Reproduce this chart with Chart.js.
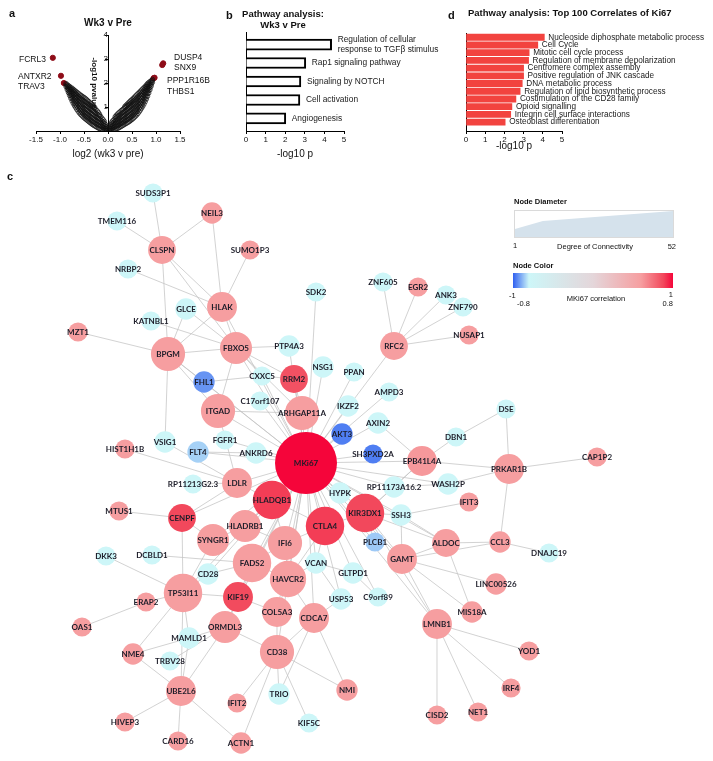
<!DOCTYPE html>
<html>
<head>
<meta charset="utf-8">
<script src="https://cdn.jsdelivr.net/npm/chart.js@4.4.1/dist/chart.umd.min.js"></script>
<style>
  body { margin: 0; background: #fff; font-family: "Liberation Sans", Arial, sans-serif; color: #111; }
  #page { position: relative; width: 713px; height: 761px; overflow: hidden; }
  .box { position: absolute; }
  .txt { position: absolute; white-space: nowrap; line-height: 1; }
</style>
</head>
<body>
<div id="page">
  <div class="box" style="left:0;top:0"><canvas id="volcano" width="200" height="160"></canvas></div>
  <div class="box" style="left:200px;top:0"><canvas id="wk3Bars" width="260" height="160"></canvas></div>
  <div class="box" style="left:445px;top:0"><canvas id="ki67Bars" width="268" height="152"></canvas></div>
  <div class="box" id="networkBox"><canvas id="network"></canvas></div>
  <div class="box" style="left:514px;top:210px;width:158px;height:26px;border:1px solid #dadada"><canvas id="sizeKey" width="158" height="26"></canvas></div>
  <div class="box" id="colorKey" style="left:513px;top:273px;width:160px;height:15px"></div>
</div>
<script>
// ---------- panel a : volcano (log2 fold change, -log10 p) ----------
// each entry: [log2 fold change, list of -log10 p values read along that column]
const volcanoLeftArm = [
  [-0.025, [0.01, 0.06, 0.12, 0.18]],
  [-0.05, [0.02, 0.1, 0.18, 0.27]],
  [-0.075, [0.03, 0.12, 0.22, 0.32, 0.4]],
  [-0.1, [0.04, 0.14, 0.25, 0.36, 0.47]],
  [-0.125, [0.06, 0.17, 0.29, 0.41, 0.53]],
  [-0.15, [0.08, 0.2, 0.32, 0.45, 0.6]],
  [-0.175, [0.1, 0.22, 0.35, 0.49, 0.63, 0.7]],
  [-0.2, [0.12, 0.25, 0.38, 0.52, 0.66, 0.78]],
  [-0.225, [0.15, 0.28, 0.42, 0.56, 0.7, 0.84]],
  [-0.25, [0.18, 0.3, 0.44, 0.58, 0.73, 0.88]],
  [-0.275, [0.21, 0.34, 0.48, 0.62, 0.77, 0.92, 0.98]],
  [-0.3, [0.24, 0.37, 0.51, 0.66, 0.81, 0.95, 1.04]],
  [-0.325, [0.27, 0.4, 0.55, 0.7, 0.85, 1.0, 1.09]],
  [-0.35, [0.31, 0.44, 0.58, 0.73, 0.88, 1.03, 1.14]],
  [-0.375, [0.35, 0.48, 0.62, 0.77, 0.92, 1.07, 1.18]],
  [-0.4, [0.39, 0.52, 0.66, 0.81, 0.96, 1.1, 1.23]],
  [-0.425, [0.43, 0.56, 0.7, 0.85, 1.0, 1.14, 1.27]],
  [-0.45, [0.47, 0.6, 0.74, 0.89, 1.03, 1.18, 1.32]],
  [-0.475, [0.51, 0.64, 0.78, 0.92, 1.07, 1.22, 1.36]],
  [-0.5, [0.55, 0.68, 0.82, 0.96, 1.1, 1.25, 1.4]],
  [-0.525, [0.6, 0.73, 0.87, 1.0, 1.14, 1.29, 1.43]],
  [-0.55, [0.65, 0.78, 0.92, 1.05, 1.19, 1.33, 1.47]],
  [-0.575, [0.7, 0.84, 0.97, 1.1, 1.24, 1.37, 1.5]],
  [-0.6, [0.76, 0.9, 1.03, 1.16, 1.29, 1.42, 1.54]],
  [-0.625, [0.83, 0.96, 1.09, 1.22, 1.34, 1.46, 1.58]],
  [-0.65, [0.9, 1.03, 1.15, 1.28, 1.4, 1.51, 1.62]],
  [-0.675, [0.98, 1.1, 1.22, 1.34, 1.45, 1.56, 1.66]],
  [-0.7, [1.06, 1.18, 1.3, 1.41, 1.52, 1.62, 1.7]],
  [-0.725, [1.15, 1.27, 1.38, 1.48, 1.58, 1.67, 1.74]],
  [-0.75, [1.25, 1.36, 1.46, 1.56, 1.65, 1.73, 1.79]],
  [-0.775, [1.36, 1.46, 1.55, 1.64, 1.72, 1.8]],
  [-0.8, [1.48, 1.57, 1.65, 1.73, 1.8, 1.86]],
  [-0.825, [1.6, 1.68, 1.76, 1.83, 1.89]],
  [-0.85, [1.72, 1.8, 1.87, 1.93]],
  [-0.875, [1.85, 1.92, 1.98]]
];
const volcanoRightArm = [
  [0.025, [0.01, 0.05, 0.11, 0.16]],
  [0.05, [0.02, 0.09, 0.17, 0.25]],
  [0.075, [0.03, 0.11, 0.2, 0.29, 0.37]],
  [0.1, [0.04, 0.13, 0.23, 0.33, 0.43]],
  [0.125, [0.05, 0.15, 0.26, 0.37, 0.48]],
  [0.15, [0.07, 0.18, 0.29, 0.41, 0.53, 0.6]],
  [0.175, [0.09, 0.2, 0.32, 0.44, 0.56, 0.66]],
  [0.2, [0.11, 0.23, 0.35, 0.47, 0.6, 0.71]],
  [0.225, [0.13, 0.25, 0.38, 0.51, 0.64, 0.76]],
  [0.25, [0.16, 0.28, 0.41, 0.54, 0.67, 0.8]],
  [0.275, [0.19, 0.31, 0.44, 0.57, 0.71, 0.85]],
  [0.3, [0.22, 0.34, 0.47, 0.61, 0.75, 0.89]],
  [0.325, [0.25, 0.37, 0.5, 0.64, 0.78, 0.93]],
  [0.35, [0.28, 0.41, 0.54, 0.68, 0.82, 0.97, 1.02]],
  [0.375, [0.31, 0.44, 0.57, 0.71, 0.86, 1.0, 1.07]],
  [0.4, [0.34, 0.47, 0.61, 0.75, 0.9, 1.04, 1.12]],
  [0.425, [0.37, 0.5, 0.64, 0.79, 0.94, 1.08, 1.17]],
  [0.45, [0.4, 0.54, 0.68, 0.83, 0.98, 1.12, 1.22]],
  [0.475, [0.44, 0.58, 0.72, 0.87, 1.02, 1.16, 1.27]],
  [0.5, [0.48, 0.62, 0.76, 0.91, 1.06, 1.2, 1.31]],
  [0.525, [0.52, 0.66, 0.8, 0.95, 1.1, 1.24, 1.36]],
  [0.55, [0.57, 0.71, 0.85, 1.0, 1.14, 1.28, 1.41]],
  [0.575, [0.62, 0.76, 0.9, 1.04, 1.18, 1.32, 1.46]],
  [0.6, [0.67, 0.81, 0.95, 1.09, 1.23, 1.37, 1.51]],
  [0.625, [0.73, 0.87, 1.01, 1.15, 1.28, 1.42, 1.56]],
  [0.65, [0.8, 0.94, 1.07, 1.2, 1.34, 1.47, 1.61]],
  [0.675, [0.87, 1.0, 1.14, 1.27, 1.4, 1.53, 1.66]],
  [0.7, [0.95, 1.08, 1.21, 1.34, 1.46, 1.58, 1.71]],
  [0.725, [1.03, 1.16, 1.28, 1.41, 1.53, 1.64, 1.76]],
  [0.75, [1.12, 1.25, 1.37, 1.49, 1.6, 1.71, 1.81]],
  [0.775, [1.22, 1.34, 1.46, 1.57, 1.68, 1.78, 1.86]],
  [0.8, [1.33, 1.44, 1.55, 1.66, 1.76, 1.85, 1.92]],
  [0.825, [1.45, 1.56, 1.66, 1.75, 1.84, 1.92, 1.98]],
  [0.85, [1.58, 1.68, 1.77, 1.86, 1.94, 2.02]],
  [0.875, [1.72, 1.81, 1.9, 1.98, 2.06]],
  [0.9, [1.87, 1.95, 2.03, 2.1]],
  [0.925, [2.02, 2.09, 2.15]]
];
const hitGenes = ['FCRL3', 'ANTXR2', 'TRAV3', 'DUSP4', 'SNX9', 'PPP1R16B', 'THBS1'];
const hitLog2FC = [-1.15, -0.98, -0.92, 1.15, 1.13, 0.97, 0.95];
const hitNegLog10P = [3.05, 2.3, 2.0, 2.82, 2.75, 2.22, 2.2];

// ---------- panel b : pathways wk3 v pre ----------
const wk3Pathways = ['Regulation of cellular|response to TGFβ stimulus', 'Rap1 signaling pathway', 'Signaling by NOTCH', 'Cell activation', 'Angiogenesis'];
const wk3NegLog10P = [4.37, 3.05, 2.8, 2.75, 2.03];

// ---------- panel d : pathways of top 100 Ki67 correlates ----------
const ki67Pathways = ['Nucleoside diphosphate metabolic process', 'Cell Cycle', 'Mitotic cell cycle process',
  'Regulation of membrane depolarization', 'Centromere complex assembly', 'Positive regulation of JNK cascade',
  'DNA metabolic process', 'Regulation of lipid biosynthetic process', 'Costimulation of the CD28 family',
  'Opioid signalling', 'Integrin cell surface interactions', 'Osteoblast differentiation'];
const ki67NegLog10P = [4.08, 3.74, 3.29, 3.26, 3.0, 3.0, 2.93, 2.82, 2.6, 2.39, 2.33, 2.04];

// ---------- panel c : correlation network ----------
const nodeNames = ['SUDS3P1','TMEM116','NEIL3','CLSPN','SUMO1P3','NRBP2','HLAK','SDK2','GLCE','KATNBL1',
  'MZT1','BPGM','FBXO5','PTP4A3','ZNF605','EGR2','ANK3','ZNF790','NUSAP1','RFC2',
  'FHL1','CXXC5','RRM2','NSG1','PPAN','AMPD3','ITGAD','C17orf107','ARHGAP11A','IKZF2',
  'AXIN2','AKT3','DSE','DBN1','VSIG1','HIST1H1B','FLT4','FGFR1','ANKRD6','MKi67',
  'SH3PXD2A','EPB41L4A','PRKAR1B','CAP1P2','RP11213G2.3','LDLR','HYPK','RP11173A16.2','WASH2P','HLADQB1',
  'IFIT3','MTUS1','KIR3DX1','SSH3','CENPF','CTLA4','HLADRB1','SYNGR1','IFI6','PLCB1',
  'ALDOC','CCL3','DNAJC19','DKK3','DCBLD1','GAMT','FADS2','VCAN','GLTPD1','CD28',
  'HAVCR2','LINC00526','TP53I11','KIF19','C9orf89','USP53','ERAP2','COL5A3','MIS18A','CDCA7',
  'LMNB1','OAS1','ORMDL3','MAMLD1','YOD1','CD38','NME4','TRBV28','IRF4','NMI',
  'UBE2L6','TRIO','IFIT2','NET1','CISD2','HIVEP3','KIF5C','CARD16','ACTN1'];
// layout coordinates of the published network
const nodeX = [153,117,212,162,250,128,222,316,186,151,
  78,168,236,289,383,418,446,463,469,394,
  204,262,294,323,354,389,218,260,302,348,
  378,342,506,456,165,125,198,225,256,306,
  373,422,509,597,193,237,340,394,448,272,
  469,119,365,401,182,325,245,213,285,375,
  446,500,549,106,152,402,252,316,353,208,
  288,496,183,238,378,341,146,277,472,314,
  437,82,225,189,529,277,133,170,511,347,
  181,279,237,478,437,125,309,178,241];
const nodeY = [193,221,213,250,250,269,307,292,309,321,
  332,354,348,346,282,287,295,307,335,346,
  382,376,379,367,372,392,411,401,413,406,
  423,434,409,437,442,449,452,440,453,463,
  454,461,469,457,484,483,493,487,484,500,
  502,511,513,515,518,526,526,540,543,542,
  543,542,553,556,555,559,563,563,573,574,
  579,584,593,597,597,599,602,612,612,618,
  624,627,627,638,651,652,654,661,688,690,
  691,694,703,712,715,722,723,741,743];
const nodeDegree = [1,1,2,5,1,1,6,1,2,1,
  1,8,7,2,1,1,1,1,1,5,
  2,1,5,2,1,1,8,1,8,2,
  2,2,1,1,2,1,2,1,2,52,
  1,6,6,1,1,6,2,2,2,10,
  1,1,10,2,5,10,7,7,8,1,
  5,2,1,1,1,6,10,2,2,2,
  9,2,10,6,1,2,1,6,2,6,
  6,1,7,2,1,8,2,1,1,2,
  6,2,1,1,1,1,1,1,2];
const nodeCorr = [-0.8,-0.8,0.6,0.6,0.6,-0.8,0.6,-0.8,-0.8,-0.8,
  0.6,0.6,0.6,-0.8,-0.8,0.6,-0.8,-0.8,0.6,0.6,
  -0.93,-0.8,0.85,-0.8,-0.8,-0.8,0.6,-0.8,0.6,-0.8,
  -0.8,-0.96,-0.8,-0.8,-0.8,0.6,-0.85,-0.8,-0.8,1.0,
  -0.96,0.62,0.6,0.6,-0.8,0.6,-0.8,-0.8,-0.8,0.9,
  0.6,0.6,0.88,-0.8,0.88,0.9,0.6,0.6,0.6,-0.86,
  0.6,0.6,-0.8,-0.8,-0.8,0.6,0.6,-0.8,-0.8,-0.8,
  0.6,0.6,0.6,0.87,-0.8,-0.8,0.6,0.6,0.6,0.6,
  0.6,0.6,0.6,-0.8,0.6,0.6,0.6,-0.8,0.6,0.6,
  0.6,-0.8,0.6,0.6,0.6,0.6,-0.8,0.6,0.6];
const networkEdges = [
  ['SUDS3P1','CLSPN'],['TMEM116','CLSPN'],['NEIL3','CLSPN'],['NEIL3','HLAK'],['SUMO1P3','HLAK'],['NRBP2','HLAK'],
  ['CLSPN','HLAK'],['CLSPN','BPGM'],['CLSPN','FBXO5'],['HLAK','BPGM'],['HLAK','FBXO5'],['GLCE','BPGM'],['GLCE','FBXO5'],
  ['KATNBL1','FBXO5'],['MZT1','BPGM'],['BPGM','FBXO5'],['BPGM','VSIG1'],['BPGM','ITGAD'],['BPGM','FHL1'],
  ['FBXO5','PTP4A3'],['FBXO5','ITGAD'],['FBXO5','CXXC5'],['FBXO5','RRM2'],['FBXO5','ARHGAP11A'],
  ['ZNF605','RFC2'],['EGR2','RFC2'],['ANK3','RFC2'],['ZNF790','RFC2'],['NUSAP1','RFC2'],
  ['FHL1','CXXC5'],['CXXC5','RRM2'],['RRM2','ARHGAP11A'],['ITGAD','ARHGAP11A'],['ITGAD','LDLR'],
  ['SDK2','MKi67'],['PTP4A3','MKi67'],['RFC2','MKi67'],['RRM2','MKi67'],['NSG1','MKi67'],['PPAN','MKi67'],
  ['IKZF2','MKi67'],['AMPD3','MKi67'],['AXIN2','MKi67'],['AKT3','MKi67'],['SH3PXD2A','MKi67'],['EPB41L4A','MKi67'],
  ['RP11173A16.2','MKi67'],['HYPK','MKi67'],['KIR3DX1','MKi67'],['CTLA4','MKi67'],['HLADQB1','MKi67'],['LDLR','MKi67'],
  ['ANKRD6','MKi67'],['FGFR1','MKi67'],['ITGAD','MKi67'],['C17orf107','MKi67'],['CXXC5','MKi67'],['FLT4','MKi67'],
  ['IFI6','MKi67'],['HLADRB1','MKi67'],['SYNGR1','MKi67'],['FADS2','MKi67'],['HAVCR2','MKi67'],['VCAN','MKi67'],
  ['USP53','MKi67'],['GLTPD1','MKi67'],['CDCA7','MKi67'],['COL5A3','MKi67'],['KIF19','MKi67'],['CENPF','MKi67'],
  ['CD38','MKi67'],['ORMDL3','MKi67'],['SSH3','MKi67'],['TP53I11','MKi67'],['FBXO5','MKi67'],['BPGM','MKi67'],
  ['GAMT','MKi67'],['ALDOC','MKi67'],['PLCB1','MKi67'],['LMNB1','MKi67'],['CD28','MKi67'],['WASH2P','MKi67'],
  ['C9orf89','MKi67'],['HLAK','MKi67'],['FHL1','MKi67'],['ARHGAP11A','MKi67'],
  ['HLADQB1','CTLA4'],['HLADQB1','LDLR'],['HLADQB1','HLADRB1'],['HLADQB1','IFI6'],['HLADRB1','SYNGR1'],['HLADRB1','IFI6'],
  ['IFI6','CTLA4'],['IFI6','HAVCR2'],['FADS2','HAVCR2'],['FADS2','KIF19'],['FADS2','IFI6'],['CTLA4','HAVCR2'],
  ['CTLA4','KIR3DX1'],['CTLA4','VCAN'],['HAVCR2','COL5A3'],['HAVCR2','CDCA7'],['COL5A3','CD38'],['COL5A3','KIF19'],
  ['KIF19','ORMDL3'],['ORMDL3','CD38'],['TP53I11','SYNGR1'],['TP53I11','KIF19'],['TP53I11','CD28'],['CENPF','SYNGR1'],
  ['CENPF','LDLR'],['CENPF','TP53I11'],['FLT4','ANKRD6'],['VSIG1','LDLR'],['RP11213G2.3','LDLR'],['HIST1H1B','LDLR'],
  ['MTUS1','CENPF'],['DKK3','TP53I11'],['DCBLD1','FADS2'],['CD28','FADS2'],['VCAN','USP53'],['VCAN','HAVCR2'],
  ['GLTPD1','VCAN'],['CDCA7','USP53'],['C9orf89','GLTPD1'],
  ['KIR3DX1','SSH3'],['KIR3DX1','RP11173A16.2'],['KIR3DX1','GAMT'],['KIR3DX1','ALDOC'],['KIR3DX1','LMNB1'],
  ['KIR3DX1','PLCB1'],['KIR3DX1','EPB41L4A'],['SSH3','IFIT3'],['SSH3','ALDOC'],['SSH3','GAMT'],
  ['RP11173A16.2','EPB41L4A'],['RP11173A16.2','WASH2P'],['EPB41L4A','AXIN2'],['EPB41L4A','DBN1'],['EPB41L4A','PRKAR1B'],
  ['DBN1','DSE'],['DSE','PRKAR1B'],['PRKAR1B','CAP1P2'],['PRKAR1B','WASH2P'],['PRKAR1B','CCL3'],
  ['ALDOC','CCL3'],['CCL3','DNAJC19'],['ALDOC','GAMT'],['ALDOC','MIS18A'],['GAMT','LINC00526'],['GAMT','MIS18A'],
  ['GAMT','LMNB1'],['GAMT','CCL3'],['LMNB1','YOD1'],['LMNB1','IRF4'],['LMNB1','NET1'],['LMNB1','CISD2'],
  ['CD38','TRIO'],['CD38','KIF5C'],['CD38','NMI'],['CD38','IFIT2'],['CD38','ACTN1'],['CD38','CDCA7'],
  ['CDCA7','NMI'],['CDCA7','TRIO'],['UBE2L6','ACTN1'],['UBE2L6','CARD16'],['UBE2L6','HIVEP3'],['UBE2L6','NME4'],
  ['UBE2L6','TP53I11'],['UBE2L6','ORMDL3'],['UBE2L6','MAMLD1'],['NME4','TP53I11'],['NME4','MAMLD1'],
  ['TRBV28','ORMDL3'],['MAMLD1','ORMDL3'],['MAMLD1','TP53I11'],['ERAP2','TP53I11'],['OAS1','ERAP2']
];

// legends of panel c
const keyDegree = [1, 10, 52];
const keyDiameter = [0.31, 0.62, 1.0];
const corrStops = [-1, -0.8, 0, 0.6, 0.88, 1];
const corrStopColors = [[48, 96, 240], [205, 246, 248], [228, 214, 218], [246, 158, 160], [242, 72, 92], [245, 5, 58]];

// ---------- helpers ----------
Chart.defaults.font.family = '"Liberation Sans", Arial, sans-serif';
Chart.defaults.color = '#111';
const page = document.getElementById('page');
const maxNodeRadius = 31;

function addText(text, x, y, size, bold, align) {
  const el = document.createElement('div');
  el.className = 'txt';
  el.textContent = text;
  el.style.left = x + 'px';
  el.style.top = y + 'px';
  el.style.fontSize = size + 'px';
  if (bold) el.style.fontWeight = 'bold';
  const tx = align === 'center' ? '-50%' : align === 'right' ? '-100%' : '0';
  el.style.transform = 'translate(' + tx + ',-50%)';
  page.appendChild(el);
}

function interp(xs, ys, v) {
  if (v <= xs[0]) return ys[0];
  for (let i = 1; i < xs.length; i++) {
    if (v <= xs[i]) {
      const t = (v - xs[i - 1]) / (xs[i] - xs[i - 1]);
      return ys[i - 1] + t * (ys[i] - ys[i - 1]);
    }
  }
  return ys[ys.length - 1];
}

function corrColor(c) {
  const rgb = [0, 1, 2].map(k => Math.round(interp(corrStops, corrStopColors.map(s => s[k]), c)));
  return 'rgb(' + rgb.join(',') + ')';
}

function nodeRadius(deg) {
  return maxNodeRadius * interp(keyDegree, keyDiameter, deg);
}

const axisGrid = { display: true, drawOnChartArea: false, drawTicks: true, tickLength: 3, color: '#000', tickColor: '#000' };
const noAnim = { responsive: false, animation: false, events: [] };

// ---------- panel a ----------
const cloud = [];
volcanoLeftArm.concat(volcanoRightArm).forEach(([fc, ps]) => {
  ps.forEach(p => cloud.push({ x: fc, y: p }));
});

new Chart(document.getElementById('volcano'), {
  type: 'scatter',
  data: {
    datasets: [
      { data: cloud, pointRadius: 2.2, pointBackgroundColor: 'rgba(0,0,0,0)', pointBorderColor: '#111', pointBorderWidth: 0.7 },
      { data: hitGenes.map((g, i) => ({ x: hitLog2FC[i], y: hitNegLog10P[i] })), pointRadius: 2.6,
        pointBackgroundColor: '#8e0c18', pointBorderColor: '#8e0c18' }
    ]
  },
  options: {
    ...noAnim,
    layout: { padding: { left: 36, right: 20, top: 35, bottom: 0 } },
    plugins: { legend: { display: false }, tooltip: { enabled: false } },
    scales: {
      x: {
        type: 'linear', min: -1.5, max: 1.5,
        ticks: { stepSize: 0.5, autoSkip: false, maxRotation: 0, padding: 1, font: { size: 8 }, callback: v => v.toFixed(1) },
        grid: axisGrid, border: { color: '#000', width: 1 },
        title: { display: true, text: 'log2 (wk3 v pre)', font: { size: 10 }, padding: 0 },
        afterFit: s => { s.height = 29; }
      },
      y: {
        type: 'linear', min: 0, max: 4, position: { x: 0 },
        ticks: { stepSize: 1, padding: 1, font: { size: 8 }, callback: v => (v === 0 ? '' : v) },
        grid: axisGrid, border: { color: '#000', width: 1 },
        title: { display: true, text: '-log10 pvalue', font: { size: 8, weight: 'bold' }, padding: 0 }
      }
    }
  }
});

// ---------- bar label plugin (b and d) ----------
function barLabels(labels, size, gap) {
  return {
    id: 'barLabels',
    afterDatasetsDraw(chart) {
      const ctx = chart.ctx;
      ctx.save();
      ctx.font = size + 'px "Liberation Sans", Arial, sans-serif';
      ctx.fillStyle = '#1a1a1a';
      ctx.textBaseline = 'middle';
      chart.getDatasetMeta(0).data.forEach((bar, i) => {
        const lines = labels[i].split('|');
        lines.forEach((ln, k) => {
          ctx.fillText(ln, bar.x + gap, bar.y + (k - (lines.length - 1) / 2) * (size + 1.5));
        });
      });
      ctx.restore();
    }
  };
}

function barOptions(pad, ymin, ymax, xHeight, titleSize) {
  return {
    ...noAnim,
    indexAxis: 'y',
    layout: { padding: pad },
    plugins: { legend: { display: false }, tooltip: { enabled: false } },
    scales: {
      x: {
        type: 'linear', min: 0, max: 5,
        ticks: { stepSize: 1, padding: 1, font: { size: 8 } },
        grid: axisGrid, border: { color: '#000', width: 1 },
        title: { display: true, text: '-log10 p', font: { size: titleSize }, padding: 0 },
        afterFit: s => { s.height = xHeight; }
      },
      y: {
        type: 'linear', min: ymin, max: ymax, reverse: true, offset: false, bounds: 'data',
        ticks: { display: false }, grid: { display: false, offset: false },
        border: { display: true, color: '#000', width: 1 },
        afterFit: s => { s.width = 0; }
      }
    }
  };
}

// ---------- panel b ----------
new Chart(document.getElementById('wk3Bars'), {
  type: 'bar',
  data: {
    datasets: [{
      data: wk3NegLog10P.map((v, i) => ({ x: v, y: i })),
      backgroundColor: '#fff', borderColor: '#000', borderWidth: 2,
      barThickness: 11
    }]
  },
  options: barOptions({ left: 46, right: 116, top: 32, bottom: 0 }, -0.68, 4.68, 29, 10),
  plugins: [barLabels(wk3Pathways, 8.4, 6)]
});

// ---------- panel d ----------
new Chart(document.getElementById('ki67Bars'), {
  type: 'bar',
  data: {
    datasets: [{
      data: ki67NegLog10P.map((v, i) => ({ x: v, y: i })),
      backgroundColor: '#f2433f', borderWidth: 0,
      barThickness: 6.2
    }]
  },
  options: barOptions({ left: 21, right: 151, top: 33, bottom: 0 }, -0.55, 12.15, 21, 10),
  plugins: [barLabels(ki67Pathways, 8.2, 4)]
});

// ---------- panel c ----------
const edgePlugin = {
  id: 'edges',
  beforeDatasetsDraw(chart) {
    const { ctx, scales: { x, y } } = chart;
    ctx.save();
    ctx.strokeStyle = 'rgba(196,196,196,0.85)';
    ctx.lineWidth = 0.9;
    networkEdges.forEach(([a, b]) => {
      const i = nodeNames.indexOf(a), j = nodeNames.indexOf(b);
      if (i < 0 || j < 0) return;
      ctx.beginPath();
      ctx.moveTo(x.getPixelForValue(nodeX[i]), y.getPixelForValue(nodeY[i]));
      ctx.lineTo(x.getPixelForValue(nodeX[j]), y.getPixelForValue(nodeY[j]));
      ctx.stroke();
    });
    ctx.restore();
  }
};
const nodeLabelPlugin = {
  id: 'nodeLabels',
  afterDatasetsDraw(chart) {
    const { ctx, scales: { x, y } } = chart;
    ctx.save();
    ctx.font = '700 8px Lato, "Liberation Sans", sans-serif';
    ctx.fillStyle = '#1c1c28';
    ctx.textAlign = 'center';
    ctx.textBaseline = 'middle';
    nodeNames.forEach((n, i) => ctx.fillText(n, x.getPixelForValue(nodeX[i]), y.getPixelForValue(nodeY[i])));
    ctx.restore();
  }
};

// bubble charts keep the largest radius free on every side of the plot area,
// so the canvas is grown by that margin to keep the layout area at 0..713 x 160..761
const netCanvas = document.getElementById('network');
const netBox = document.getElementById('networkBox');
netCanvas.width = 713 + 2 * maxNodeRadius;
netCanvas.height = 601 + 2 * maxNodeRadius;
netBox.style.left = (-maxNodeRadius) + 'px';
netBox.style.top = (160 - maxNodeRadius) + 'px';

new Chart(netCanvas, {
  type: 'bubble',
  data: {
    datasets: [{
      data: nodeNames.map((n, i) => ({ x: nodeX[i], y: nodeY[i], r: nodeRadius(nodeDegree[i]) })),
      backgroundColor: nodeCorr.map(corrColor),
      borderWidth: 0,
      hoverRadius: 0,
      clip: false
    }]
  },
  options: {
    ...noAnim,
    layout: { padding: 0 },
    plugins: { legend: { display: false }, tooltip: { enabled: false } },
    scales: {
      x: { type: 'linear', min: 0, max: 713, display: false },
      y: { type: 'linear', min: 160, max: 761, reverse: true, display: false }
    }
  },
  plugins: [edgePlugin, nodeLabelPlugin]
});

// node diameter key
new Chart(document.getElementById('sizeKey'), {
  type: 'line',
  data: {
    datasets: [{
      data: keyDegree.map((d, i) => ({ x: d, y: keyDiameter[i] })),
      fill: 'origin', backgroundColor: '#d5e2ec', borderWidth: 0, pointRadius: 0, tension: 0
    }]
  },
  options: {
    ...noAnim,
    layout: { padding: 0 },
    plugins: { legend: { display: false }, tooltip: { enabled: false } },
    scales: {
      x: { type: 'linear', min: 1, max: 52, display: false },
      y: { type: 'linear', min: 0, max: 1, display: false }
    }
  }
});

// node colour key
document.getElementById('colorKey').style.background = 'linear-gradient(to right,' +
  corrStops.map((c, i) => 'rgb(' + corrStopColors[i].join(',') + ') ' + ((c + 1) / 2 * 100).toFixed(1) + '%').join(',') + ')';

// ---------- texts ----------
addText('a', 9, 13, 11, true, 'left');
addText('Wk3 v Pre', 108, 23, 10, true, 'center');
addText('FCRL3', 19, 59, 8.5, false, 'left');
addText('ANTXR2', 18, 76, 8.5, false, 'left');
addText('TRAV3', 18, 86, 8.5, false, 'left');
addText('DUSP4', 174, 57, 8.5, false, 'left');
addText('SNX9', 174, 67, 8.5, false, 'left');
addText('PPP1R16B', 167, 80, 8.5, false, 'left');
addText('THBS1', 167, 91, 8.5, false, 'left');

addText('b', 226, 15, 11, true, 'left');
addText('Pathway analysis:', 283, 14, 9.5, true, 'center');
addText('Wk3 v Pre', 283, 25, 9.5, true, 'center');

addText('d', 448, 15, 11, true, 'left');
addText('Pathway analysis: Top 100 Correlates of Ki67', 468, 13, 9.5, true, 'left');

addText('c', 7, 176, 11, true, 'left');
addText('Node Diameter', 514, 202, 7.5, true, 'left');
addText('1', 513, 246, 7.5, false, 'left');
addText('Degree of Connectivity', 595, 247, 7.5, false, 'center');
addText('52', 676, 247, 7.5, false, 'right');
addText('Node Color', 513, 266, 7.5, true, 'left');
addText('-1', 509, 296, 7.5, false, 'left');
addText('-0.8', 517, 304, 7.5, false, 'left');
addText('MKi67 correlation', 596, 299, 7.5, false, 'center');
addText('1', 673, 295, 7.5, false, 'right');
addText('0.8', 673, 304, 7.5, false, 'right');
</script>
</body>
</html>
